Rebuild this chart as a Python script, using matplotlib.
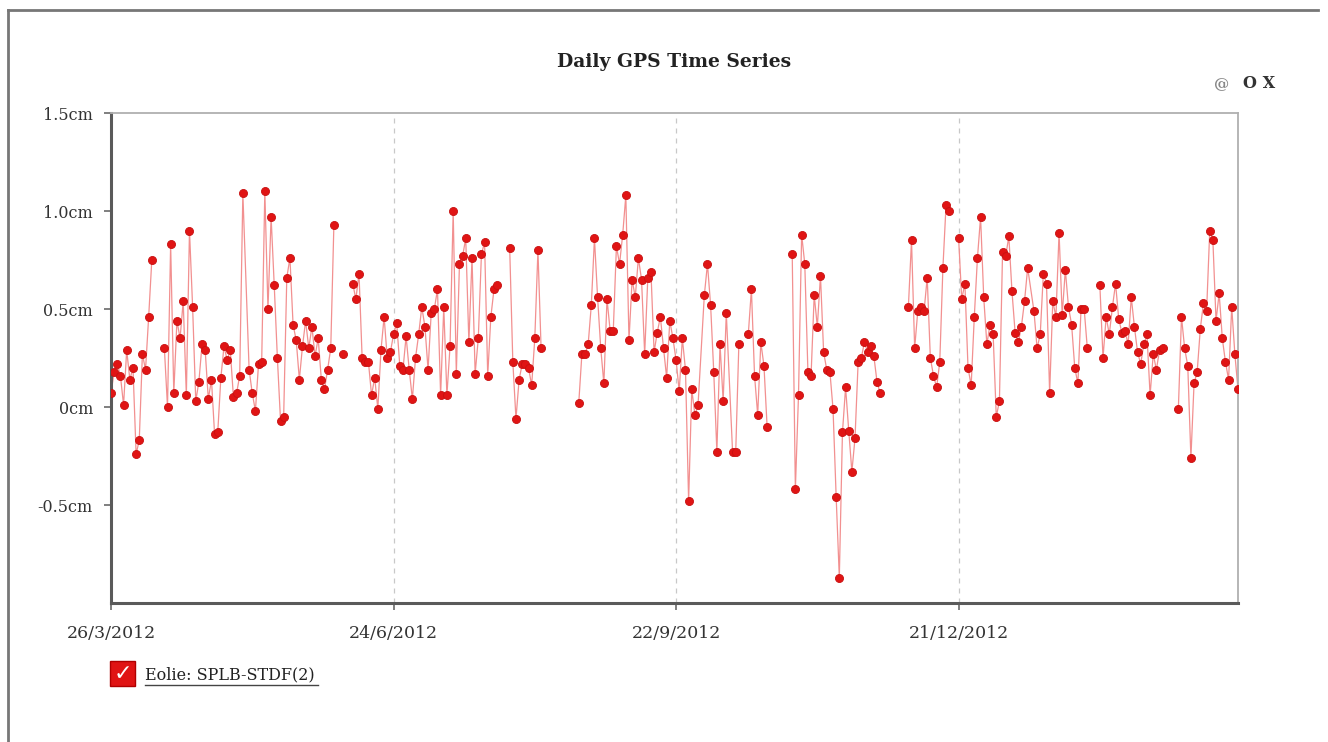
import datetime as dt
import numpy as np
import matplotlib
matplotlib.use("Agg")
import matplotlib.pyplot as plt
from matplotlib.lines import Line2D
from matplotlib.patches import Rectangle
from matplotlib.ticker import FuncFormatter

# -------------------- Data --------------------

START = dt.date(2012, 3, 26)

# observed days, as inclusive (first, last) offsets from START
obs_ranges = [(0, 13), (17, 42), (44, 71), (74, 74), (77, 123), (127, 137),
              (149, 187), (189, 196), (198, 200), (203, 209), (217, 245),
              (254, 267), (270, 292), (294, 311), (315, 335), (340, 359)]

# daily displacement (cm), one value per observed day
disp_cm = [
    0.07, 0.18, 0.22, 0.16, 0.01, 0.29, 0.14, 0.20, -0.24, -0.17, 0.27, 0.19, 0.46, 0.75,
    0.30, 0.00, 0.83, 0.07, 0.44, 0.35, 0.54, 0.06, 0.90, 0.51, 0.03, 0.13, 0.32, 0.29,
    0.04, 0.14, -0.14, -0.13, 0.15, 0.31, 0.24, 0.29, 0.05, 0.07, 0.16, 1.09,
    0.19, 0.07, -0.02, 0.22, 0.23, 1.10, 0.50, 0.97, 0.62, 0.25, -0.07, -0.05, 0.66, 0.76,
    0.42, 0.34, 0.14, 0.31, 0.44, 0.30, 0.41, 0.26, 0.35, 0.14, 0.09, 0.19, 0.30, 0.93,
    0.27,
    0.63, 0.55, 0.68, 0.25, 0.23, 0.23, 0.06, 0.15, -0.01, 0.29, 0.46, 0.25, 0.28, 0.37,
    0.43, 0.21, 0.19, 0.36, 0.19, 0.04, 0.25, 0.37, 0.51, 0.41, 0.19, 0.48, 0.50, 0.60,
    0.06, 0.51, 0.06, 0.31, 1.00, 0.17, 0.73, 0.77, 0.86, 0.33, 0.76, 0.17, 0.35, 0.78,
    0.84, 0.16, 0.46, 0.60, 0.62,
    0.81, 0.23, -0.06, 0.14, 0.22, 0.22, 0.20, 0.11, 0.35, 0.80, 0.30,
    0.02, 0.27, 0.27, 0.32, 0.52, 0.86, 0.56, 0.30, 0.12, 0.55, 0.39, 0.39, 0.82, 0.73,
    0.88, 1.08, 0.34, 0.65, 0.56, 0.76, 0.65, 0.27, 0.66, 0.69, 0.28, 0.38, 0.46, 0.30,
    0.15, 0.44, 0.35, 0.24, 0.08, 0.35, 0.19, -0.48, 0.09, -0.04, 0.01,
    0.57, 0.73, 0.52, 0.18, -0.23, 0.32, 0.03, 0.48,
    -0.23, -0.23, 0.32,
    0.37, 0.60, 0.16, -0.04, 0.33, 0.21, -0.10,
    0.78, -0.42, 0.06, 0.88, 0.73, 0.18, 0.16, 0.57, 0.41, 0.67, 0.28, 0.19, 0.18, -0.01,
    -0.46, -0.87, -0.13, 0.10, -0.12, -0.33, -0.16, 0.23, 0.25, 0.33, 0.28, 0.31, 0.26,
    0.13, 0.07,
    0.51, 0.85, 0.30, 0.49, 0.51, 0.49, 0.66, 0.25, 0.16, 0.10, 0.23, 0.71, 1.03, 1.00,
    0.86, 0.55, 0.63, 0.20, 0.11, 0.46, 0.76, 0.97, 0.56, 0.32, 0.42, 0.37, -0.05, 0.03,
    0.79, 0.77, 0.87, 0.59, 0.38, 0.33, 0.41, 0.54, 0.71,
    0.49, 0.30, 0.37, 0.68, 0.63, 0.07, 0.54, 0.46, 0.89, 0.47, 0.70, 0.51, 0.42, 0.20,
    0.12, 0.50, 0.50, 0.30,
    0.62, 0.25, 0.46, 0.37, 0.51, 0.63, 0.45, 0.38, 0.39, 0.32, 0.56, 0.41, 0.28, 0.22,
    0.32, 0.37, 0.06, 0.27, 0.19, 0.29, 0.30,
    -0.01, 0.46, 0.30, 0.21, -0.26, 0.12, 0.18, 0.40, 0.53, 0.49, 0.90, 0.85, 0.44, 0.58,
    0.35, 0.23, 0.14, 0.51, 0.27, 0.09,
]

x_tick_labels = ["26/3/2012", "24/6/2012", "22/9/2012", "21/12/2012"]
y_ticks = [1.5, 1.0, 0.5, 0.0, -0.5]
y_tick_labels = ["1.5cm", "1.0cm", "0.5cm", "0cm", "-0.5cm"]
series_name = "Eolie: SPLB-STDF(2)"

# -------------------- Build series --------------------

days = [d for a, b in obs_ranges for d in range(a, b + 1)]
assert len(days) == len(disp_cm), (len(days), len(disp_cm))

dates = [START + dt.timedelta(days=d) for d in days]

# break the line where more than one day is missing
line_x, line_y = [], []
prev = None
for d, v in zip(days, disp_cm):
    if prev is not None and d - prev > 2:
        line_x.append(START + dt.timedelta(days=prev + 1))
        line_y.append(np.nan)
    line_x.append(START + dt.timedelta(days=d))
    line_y.append(v)
    prev = d

tick_dates = [dt.datetime.strptime(s, "%d/%m/%Y").date() for s in x_tick_labels]

# -------------------- Plot --------------------

plt.rcParams["font.family"] = ["DejaVu Serif"]

fig = plt.figure(figsize=(13.28, 7.42), dpi=100)
ax = fig.add_axes([111 / 1328, 1 - 603 / 742, (1238 - 111) / 1328, (603 - 113) / 742])

red = "#e01414"
ax.plot(line_x, line_y, color="#f29090", lw=0.9, zorder=2)
ax.plot(dates, disp_cm, "o", color=red, mec="#c81010", mew=0.6, ms=5.8, zorder=3)

ax.set_xlim(START, START + dt.timedelta(days=359.3))
ax.set_ylim(-1.0, 1.5)

ax.set_xticks(tick_dates)
ax.xaxis.set_major_formatter(FuncFormatter(
    lambda v, p: "{d.day}/{d.month}/{d.year}".format(d=matplotlib.dates.num2date(v))))
ax.set_yticks(y_ticks)
ax.set_yticklabels(y_tick_labels)

ax.grid(axis="x", color="#c8c8c8", ls=(0, (4, 4)), lw=0.9)
ax.grid(axis="y", visible=False)

for side in ("left", "bottom"):
    ax.spines[side].set_color("#5a5a5a")
    ax.spines[side].set_linewidth(2.2)
for side in ("top", "right"):
    ax.spines[side].set_color("#b0b0b0")
    ax.spines[side].set_linewidth(1.3)

ax.tick_params(axis="both", direction="out", length=5, width=1.2, color="#6a6a6a",
               labelcolor="#333333")
ax.tick_params(axis="x", pad=11, labelsize=12.5)
ax.tick_params(axis="y", pad=8, labelsize=11.5)

# title and controls
fig.text(674 / 1328, 1 - 62 / 742, "Daily GPS Time Series", ha="center", va="center",
         fontsize=13.5, fontweight="bold", color="#222222")
fig.text(1222 / 1328, 1 - 84 / 742, "@", ha="center", va="center", fontsize=11,
         fontweight="bold", color="#888888")
fig.text(1259 / 1328, 1 - 83 / 742, "O X", ha="center", va="center", fontsize=11.5,
         fontweight="bold", color="#333333")

# legend: checkbox + underlined label
fig.patches.append(Rectangle((110 / 1328, 1 - 686 / 742), 25 / 1328, 25 / 742,
                             transform=fig.transFigure, facecolor=red,
                             edgecolor="#b00000", lw=1))
fig.text(122.5 / 1328, 1 - 674 / 742, "\u2713", ha="center", va="center", fontsize=16,
         fontweight="bold", color="white", family=["DejaVu Sans"])
fig.text(145 / 1328, 1 - 675 / 742, series_name, ha="left", va="center", fontsize=11.5,
         color="#222222")
fig.lines.append(Line2D([145 / 1328, 318 / 1328], [1 - 685 / 742, 1 - 685 / 742],
                        transform=fig.transFigure, color="#444444", lw=1))

# outer frame (top and left edges of the widget)
fig.lines.append(Line2D([8 / 1328, 1318 / 1328], [1 - 10 / 742, 1 - 10 / 742],
                        transform=fig.transFigure, color="#777777", lw=2))
fig.lines.append(Line2D([8 / 1328, 8 / 1328], [1 - 10 / 742, 0],
                        transform=fig.transFigure, color="#777777", lw=2))

fig.savefig("out.png", dpi=100)
